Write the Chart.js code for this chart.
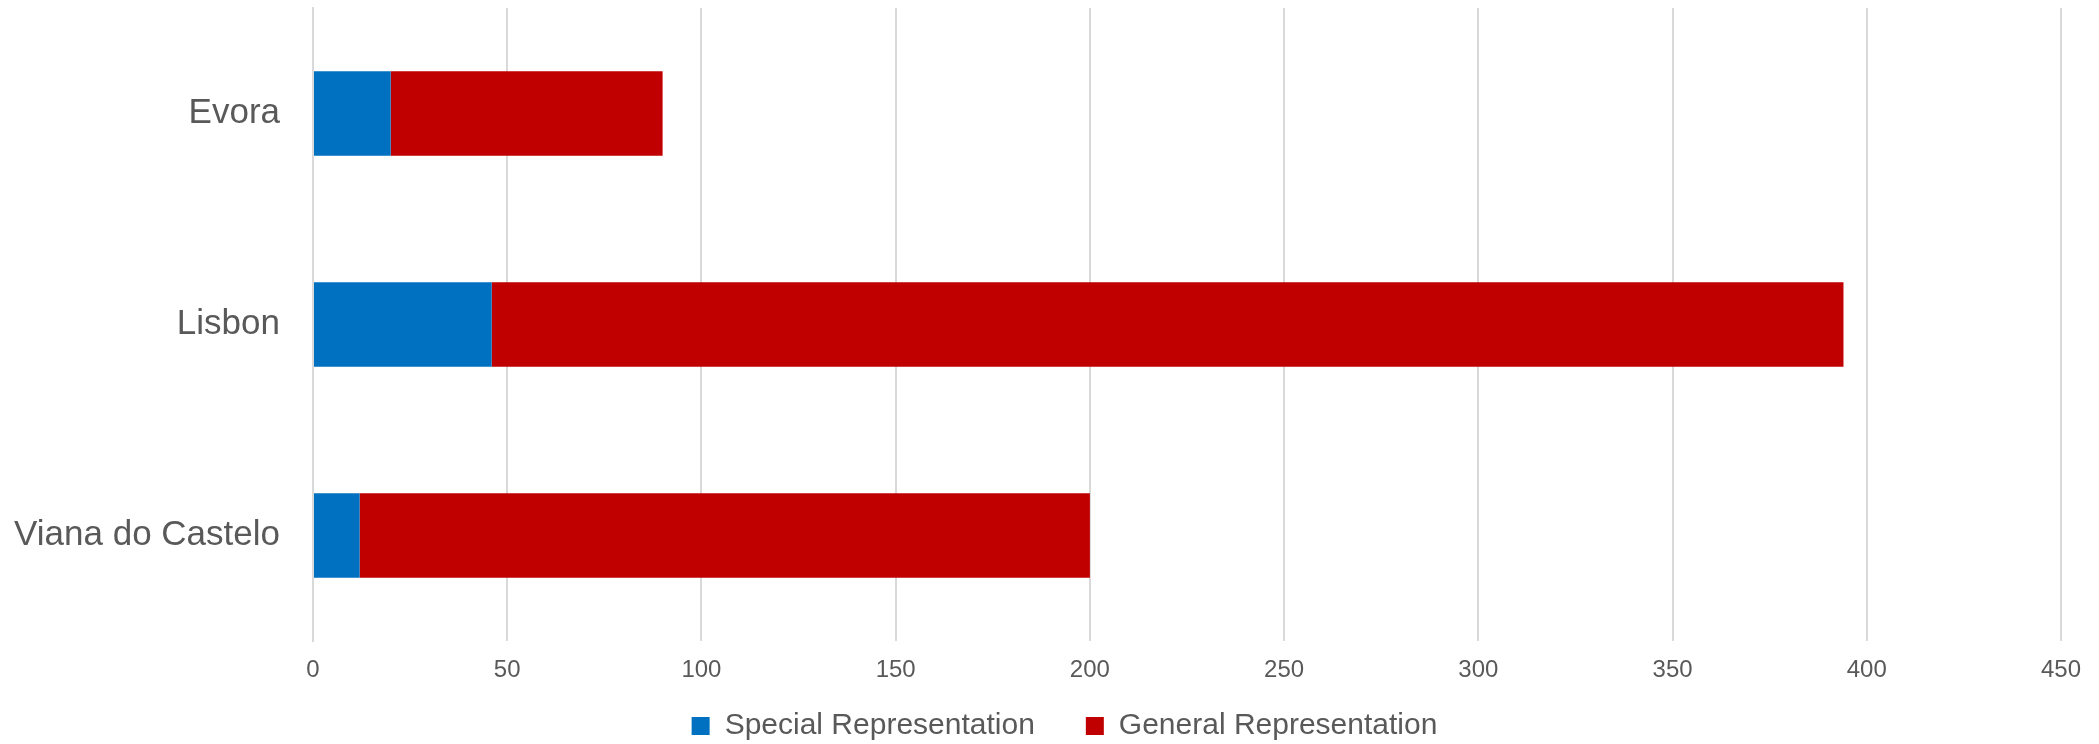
<!DOCTYPE html>
<html>
<head>
<meta charset="utf-8">
<script src="https://cdn.jsdelivr.net/npm/chart.js@4"></script>
<style>
  html, body { margin: 0; padding: 0; background: #fff; }
  #wrap { width: 2099px; height: 744px; }
</style>
</head>
<body>
<div id="wrap"><canvas id="chart"></canvas></div>
<script>
/* data */
const cities = ["Evora", "Lisbon", "Viana do Castelo"];
const special = [20, 46, 12];
const general = [70, 348, 188];
const xTicks = [0, 50, 100, 150, 200, 250, 300, 350, 400, 450];

const FONT = "'Liberation Sans', Arial, sans-serif";
const TEXT = "#595959";

/* legend keeps wide item gap, moved up/right after layout */
const legendShift = {
  id: "legendShift",
  afterLayout(chart) {
    const lg = chart.legend;
    lg.top -= 23; lg.bottom -= 23;
    lg.left += 34; lg.right += 34;
  }
};

new Chart(document.getElementById("chart"), {
  type: "bar",
  data: {
    labels: cities,
    datasets: [
      { label: "Special Representation", data: special, backgroundColor: "#0070C0" },
      { label: "General Representation", data: general, backgroundColor: "#C00000" }
    ]
  },
  options: {
    indexAxis: "y",
    responsive: true,
    maintainAspectRatio: false,
    animation: false,
    categoryPercentage: 1,
    barPercentage: 0.4,
    layout: { padding: { left: 0, right: 38, top: 8, bottom: -30 } },
    scales: {
      x: {
        stacked: true,
        min: xTicks[0],
        max: xTicks[xTicks.length - 1],
        afterBuildTicks: s => { s.ticks = xTicks.map(v => ({ value: v })); },
        afterFit: s => { s.height = 42; s.paddingLeft = 0; s.paddingRight = 0; },
        grid: { color: "#d9d9d9", lineWidth: 2, drawTicks: false },
        border: { display: false },
        ticks: { color: TEXT, font: { family: FONT, size: 24 }, padding: 15 }
      },
      y: {
        stacked: true,
        afterFit: s => { s.width = 313; s.paddingTop = 0; s.paddingBottom = 0; },
        grid: { display: false, drawTicks: false },
        border: { display: true, color: "#d9d9d9", width: 2 },
        ticks: { color: TEXT, font: { family: FONT, size: 35 }, padding: 33 }
      }
    },
    plugins: {
      legend: {
        position: "bottom",
        labels: {
          color: TEXT,
          font: { family: FONT, size: 30 },
          boxWidth: 18,
          boxHeight: 18,
          padding: 51
        }
      },
      tooltip: { enabled: false }
    }
  },
  plugins: [legendShift]
});
</script>
</body>
</html>
